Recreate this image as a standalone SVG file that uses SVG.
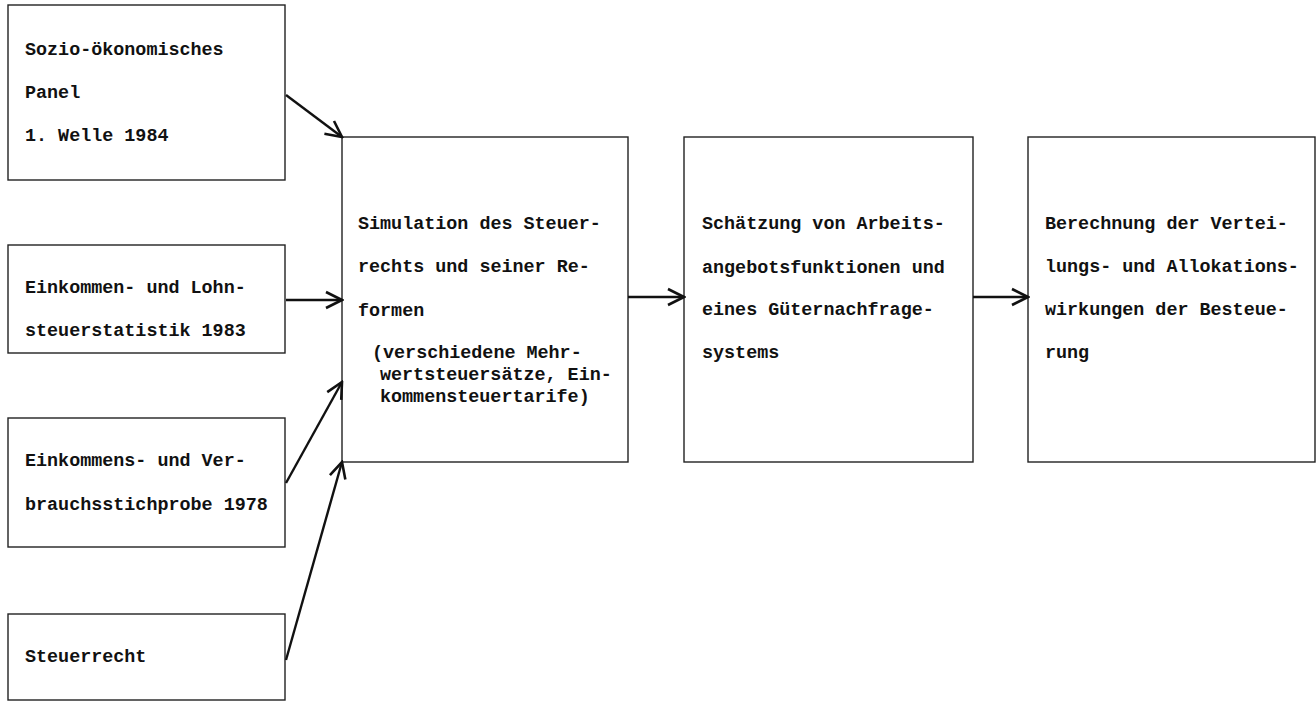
<svg xmlns="http://www.w3.org/2000/svg" width="1316" height="701" viewBox="0 0 1316 701">
<style>
.box{fill:#fff;stroke:#222;stroke-width:1.4}
.t{font-family:"Liberation Mono","Courier New",monospace;font-weight:bold;font-size:18.4px;fill:#111}
.c{stroke:#111;stroke-width:2.4;fill:none}
</style>
<defs>
<marker id="ah" viewBox="0 0 20 20" refX="18" refY="10" markerWidth="20" markerHeight="20" markerUnits="userSpaceOnUse" orient="auto">
<path d="M2,2 L18,10 L2,18" fill="none" stroke="#111" stroke-width="2.6"/>
</marker>
</defs>
<rect width="1316" height="701" fill="#fff"/>
<g id="n1">
<rect class="box" x="8" y="5" width="277" height="175"/>
<text class="t" x="25" y="55">Sozio-ökonomisches</text>
<text class="t" x="25" y="98">Panel</text>
<text class="t" x="25" y="141">1. Welle 1984</text>
</g>
<g id="n2">
<rect class="box" x="8" y="245" width="277" height="108"/>
<text class="t" x="25" y="293">Einkommen- und Lohn-</text>
<text class="t" x="25" y="336">steuerstatistik 1983</text>
</g>
<g id="n3">
<rect class="box" x="8" y="418" width="277" height="129"/>
<text class="t" x="25" y="466">Einkommens- und Ver-</text>
<text class="t" x="25" y="510">brauchsstichprobe 1978</text>
</g>
<g id="n4">
<rect class="box" x="8" y="614" width="277" height="86"/>
<text class="t" x="25" y="662">Steuerrecht</text>
</g>
<g id="n5">
<rect class="box" x="342" y="137" width="286" height="325"/>
<text class="t" x="358" y="229">Simulation des Steuer-</text>
<text class="t" x="358" y="272">rechts und seiner Re-</text>
<text class="t" x="358" y="316">formen</text>
<text class="t" x="372" y="358">(verschiedene Mehr-</text>
<text class="t" x="380" y="380">wertsteuersätze, Ein-</text>
<text class="t" x="380" y="402">kommensteuertarife)</text>
</g>
<g id="n6">
<rect class="box" x="684" y="137" width="289" height="325"/>
<text class="t" x="702" y="229">Schätzung von Arbeits-</text>
<text class="t" x="702" y="273">angebotsfunktionen und</text>
<text class="t" x="702" y="315">eines Güternachfrage-</text>
<text class="t" x="702" y="358">systems</text>
</g>
<g id="n7">
<rect class="box" x="1028" y="137" width="287" height="325"/>
<text class="t" x="1045" y="229">Berechnung der Vertei-</text>
<text class="t" x="1045" y="272">lungs- und Allokations-</text>
<text class="t" x="1045" y="315">wirkungen der Besteue-</text>
<text class="t" x="1045" y="358">rung</text>
</g>
<g id="connectors">
<line class="c" x1="286" y1="95" x2="342" y2="137" marker-end="url(#ah)"/>
<line class="c" x1="286" y1="300" x2="342" y2="300" marker-end="url(#ah)"/>
<line class="c" x1="286" y1="483" x2="342" y2="382" marker-end="url(#ah)"/>
<line class="c" x1="286" y1="660" x2="342" y2="462" marker-end="url(#ah)"/>
<line class="c" x1="628" y1="297" x2="684" y2="297" marker-end="url(#ah)"/>
<line class="c" x1="973" y1="297" x2="1028" y2="297" marker-end="url(#ah)"/>
</g>
</svg>
